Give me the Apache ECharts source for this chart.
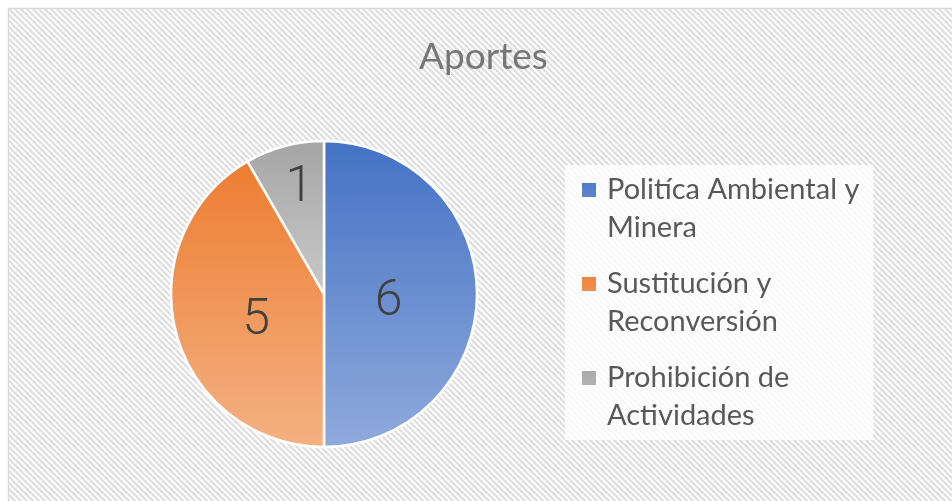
<!DOCTYPE html>
<html>
<head>
<meta charset="utf-8">
<script src="https://cdn.jsdelivr.net/npm/echarts@6.0.0/dist/echarts.min.js"></script>
<style>
html,body{margin:0;padding:0;background:#fff;}
#chart{width:952px;height:501px;}
</style>
</head>
<body>
<div id="chart"></div>
<script>
// ---- data ----
const chartTitle = 'Aportes';
const categories = ['Politíca Ambiental y Minera', 'Sustitución y Reconversión', 'Prohibición de Actividades'];
const values = [6, 5, 1];

// ---- styles ----
const gradients = [
  ['#4472C4', '#8FAADC'],
  ['#ED7D31', '#F4B183'],
  ['#A5A5A5', '#C9C9C9']
];
const labelShift = [[-15, 8], [9, 7], [-4, -29]];

function makeHatch() {
  const c = document.createElement('canvas');
  c.width = 6; c.height = 6;
  const g = c.getContext('2d');
  g.fillStyle = '#ffffff';
  g.fillRect(0, 0, 6, 6);
  g.strokeStyle = '#e0e0e0';
  g.lineWidth = 2.4;
  for (const k of [-6, 0, 6]) {
    g.beginPath();
    g.moveTo(k - 1, -1);
    g.lineTo(k + 7, 7);
    g.stroke();
  }
  return c;
}

const chart = echarts.init(document.getElementById('chart'), null, {renderer: 'canvas'});

const seriesData = categories.map((name, i) => ({
  name: name,
  value: values[i],
  itemStyle: {
    color: {
      type: 'linear', x: 0, y: 0, x2: 0, y2: 1,
      colorStops: [{offset: 0, color: gradients[i][0]}, {offset: 1, color: gradients[i][1]}]
    }
  }
}));

chart.setOption({
  animation: false,
  graphic: [{
    type: 'rect',
    z: -10,
    silent: true,
    shape: {x: 8.5, y: 8.5, width: 960, height: 520},
    style: {fill: {image: makeHatch(), repeat: 'repeat'}, stroke: '#d9d9d9', lineWidth: 1.5}
  }],
  title: {
    text: chartTitle,
    left: 419,
    top: 39,
    padding: 0,
    textStyle: {fontFamily: 'Lato', fontSize: 37, fontWeight: 'normal', color: '#767676'}
  },
  legend: {
    orient: 'vertical',
    left: 565,
    top: 165,
    padding: [6, 14, 5, 17],
    backgroundColor: 'rgba(255,255,255,0.8)',
    itemGap: 18,
    itemWidth: 20,
    itemHeight: 76,
    icon: 'path://M0,12L14,12L14,26L0,26Z M0,0L0.01,0 M20,76L20.01,76',
    itemStyle: {borderWidth: 0},
    selectedMode: false,
    formatter: function (name) {
      const i = name.lastIndexOf(' ');
      return name.slice(0, i) + '\n' + name.slice(i + 1);
    },
    textStyle: {fontFamily: 'Lato', fontSize: 29, color: '#595959', lineHeight: 38}
  },
  series: [{
    type: 'pie',
    center: [324, 294],
    radius: ['0%', 153],
    startAngle: 90,
    clockwise: true,
    silent: true,
    data: seriesData,
    itemStyle: {borderColor: '#ffffff', borderWidth: 2.5},
    label: {
      show: true,
      position: 'inside',
      formatter: '{c}',
      fontFamily: 'Roboto',
      fontWeight: 300,
      fontSize: 50,
      color: '#404040'
    },
    labelLine: {show: false},
    labelLayout: function (params) {
      const s = labelShift[params.dataIndex];
      return {dx: s[0], dy: s[1]};
    }
  }]
});
</script>
</body>
</html>
